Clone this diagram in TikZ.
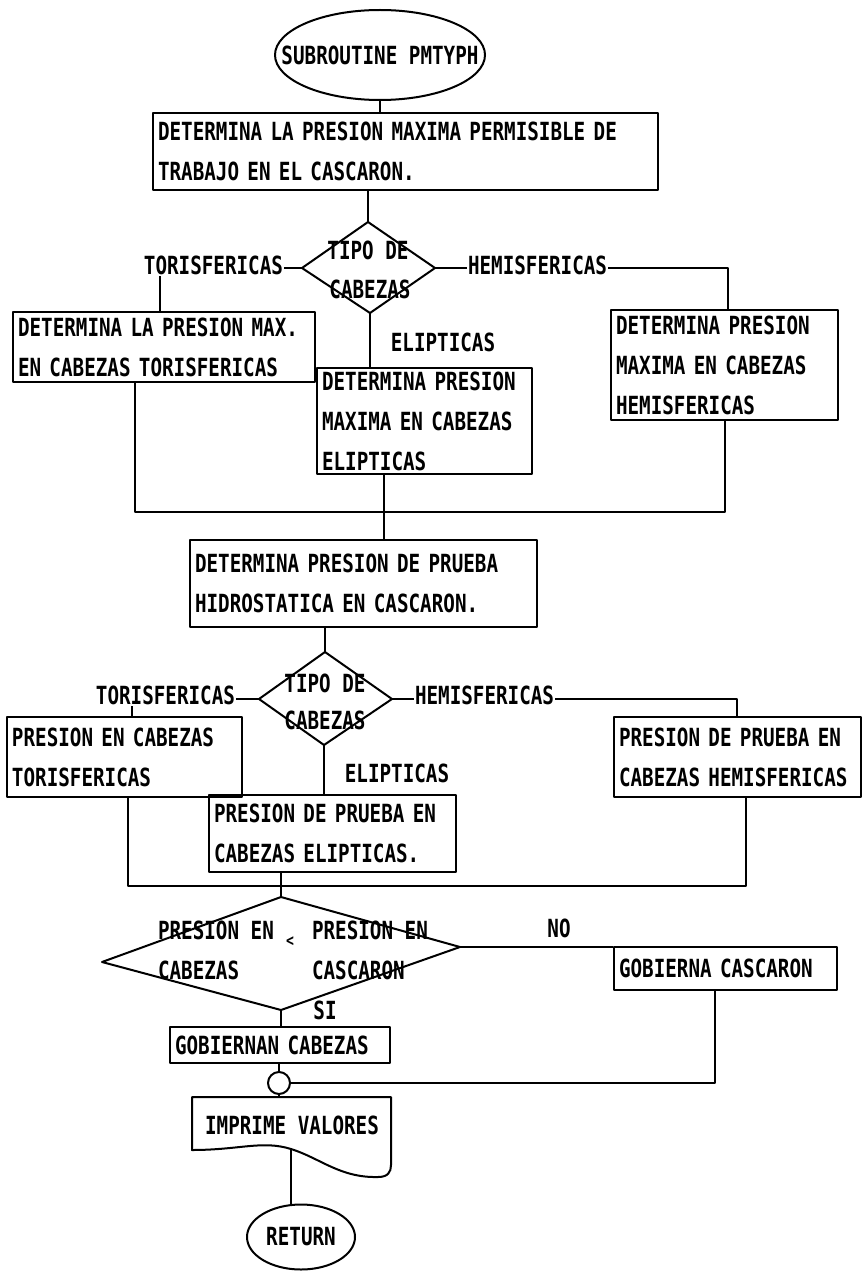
\documentclass[tikz,border=0pt]{standalone}
\usepackage{fontspec}
\setmainfont{DejaVu Sans Mono}[FakeStretch=0.77]
\usetikzlibrary{shapes.geometric}
\begin{document}
\begin{tikzpicture}[x=1pt,y=-1pt,line width=2pt,line join=round,
  every node/.style={font=\bfseries\fontsize{25pt}{40pt}\selectfont},
  box/.style={draw,rectangle,inner xsep=5pt,inner ysep=3pt,align=left},
  txt/.style={inner sep=0pt},
  oval/.style={draw,ellipse,inner sep=0pt}]
\useasboundingbox (0,0) rectangle (863,1273);

% title
\node[oval,minimum width=210pt,minimum height=90pt] (start) at (380,55) {};
\node[txt] (startt) at (start.center) {SUBROUTINE PMTYPH};
\node[box,minimum width=505pt,minimum height=77pt,text width=495pt] (b1) at (405.5,151.5) {DETERMINA LA PRESION MAXIMA PERMISIBLE DE\\TRABAJO EN EL CASCARON.};
\draw (start.south) -- (start.south |- b1.north);

% diamond 1
\coordinate (d1t) at (368,222);
\coordinate (d1l) at (302,268);
\coordinate (d1r) at (435,268);
\coordinate (d1b) at (370,313);
\draw (d1t) -- (d1r) -- (d1b) -- (d1l) -- cycle;
\node[txt] (d1a) at (368,250) {TIPO DE};
\node[txt] (d1c) at (370,289) {CABEZAS};
\draw (d1t |- b1.south) -- (d1t);

\node[box,minimum width=302pt,minimum height=70pt,text width=292pt] (bL1) at (164,347) {DETERMINA LA PRESION MAX.\\EN CABEZAS TORISFERICAS};
\node[box,minimum width=215pt,minimum height=106pt,text width=205pt] (bC1) at (424.5,421) {DETERMINA PRESION\\MAXIMA EN CABEZAS\\ELIPTICAS};
\node[box,minimum width=227pt,minimum height=110pt,text width=217pt] (bR1) at (724.5,365) {DETERMINA PRESION\\MAXIMA EN CABEZAS\\HEMISFERICAS};

\node[txt,anchor=south east] (tor1) at (284,276) {TORISFERICAS};
\draw (d1l) -- (d1l -| tor1.east);
\node[txt,anchor=south west] (hem1) at (467,276) {HEMISFERICAS};
\draw (d1r) -- (d1r -| hem1.west);
\coordinate (c1) at (728,268);
\draw (c1 -| hem1.east) -- (c1) -- (c1 |- bR1.north);
\coordinate (v1) at (160,0);
\draw (v1 |- tor1.south) -- (v1 |- bL1.north);
\draw (d1b) -- (d1b |- bC1.north);
\node[txt] (eli1) at (443,342) {ELIPTICAS};

% merge 1
\node[box,minimum width=347pt,minimum height=87pt,text width=337pt] (b3) at (363.5,583.5) {DETERMINA PRESION DE PRUEBA\\HIDROSTATICA EN CASCARON.};
\coordinate (m1L) at (135,512);
\coordinate (m1R) at (725,512);
\coordinate (m1C) at (384,512);
\draw (m1L |- bL1.south) -- (m1L) -- (m1R) -- (m1R |- bR1.south);
\draw (m1C |- bC1.south) -- (m1C) -- (m1C |- b3.north);

% diamond 2
\coordinate (d2t) at (325,652);
\coordinate (d2l) at (259,699);
\coordinate (d2r) at (392,699);
\coordinate (d2b) at (324,745);
\draw (d2t) -- (d2r) -- (d2b) -- (d2l) -- cycle;
\node[txt] (d2a) at (325,683) {TIPO DE};
\node[txt] (d2c) at (325,720) {CABEZAS};
\draw (d2t |- b3.south) -- (d2t);

\node[box,minimum width=235pt,minimum height=80pt,text width=225pt] (bL2) at (124.5,757) {PRESION EN CABEZAS\\TORISFERICAS};
\node[box,minimum width=247pt,minimum height=80pt,text width=237pt] (bR2) at (737.5,757) {PRESION DE PRUEBA EN\\CABEZAS HEMISFERICAS};
\node[box,minimum width=247pt,minimum height=77pt,text width=237pt] (bC2) at (332.5,833.5) {PRESION DE PRUEBA EN\\CABEZAS ELIPTICAS.};

\node[txt,anchor=south east] (tor2) at (236,706) {TORISFERICAS};
\draw (d2l) -- (d2l -| tor2.east);
\node[txt,anchor=south west] (hem2) at (414,706) {HEMISFERICAS};
\draw (d2r) -- (d2r -| hem2.west);
\coordinate (c2) at (737,699);
\draw (c2 -| hem2.east) -- (c2) -- (c2 |- bR2.north);
\coordinate (v2) at (132,0);
\draw (v2 |- tor2.south) -- (v2 |- bL2.north);
\draw (d2b) -- (d2b |- bC2.north);
\node[txt] (eli2) at (397,773) {ELIPTICAS};

% merge 2
\coordinate (m2L) at (128,886);
\coordinate (m2R) at (746,886);
\coordinate (m2C) at (281,886);
\draw (m2L |- bL2.south) -- (m2L) -- (m2R) -- (m2R |- bR2.south);

% diamond 3
\coordinate (d3t) at (281,897);
\coordinate (d3r) at (460,947);
\coordinate (d3b) at (281,1010);
\coordinate (d3l) at (102,962);
\draw (d3t) -- (d3r) -- (d3b) -- (d3l) -- cycle;
\draw (m2C |- bC2.south) -- (d3t);
\node[txt,anchor=west] (q1) at (157,930) {PRESION EN};
\node[txt,anchor=west] (q2) at (157,970) {CABEZAS};
\node[txt,font=\bfseries\fontsize{17pt}{20pt}\selectfont] (lt) at (290,942) {<};
\node[txt,anchor=west] (q3) at (311,930) {PRESION EN};
\node[txt,anchor=west] (q4) at (311,970) {CASCARON};
\node[txt] (no) at (559,928) {NO};
\node[txt] (si) at (325,1010) {SI};

\node[box,minimum width=223pt,minimum height=43pt,text width=213pt] (bNo) at (725.5,968.5) {GOBIERNA CASCARON};
\draw (d3r) -- (d3r -| bNo.west);
\node[box,minimum width=220pt,minimum height=36pt,text width=210pt] (bSi) at (280,1045) {GOBIERNAN CABEZAS};
\draw (d3b) -- (d3b |- bSi.north);

\node[draw,circle,minimum size=22pt,inner sep=0pt] (conn) at (279,1083) {};
\draw (conn.north |- bSi.south) -- (conn.north);
\coordinate (v3) at (715,1083);
\draw (v3 |- bNo.south) -- (v3) -- (conn.east);

% document shape
\coordinate (docTL) at (192,1097);
\coordinate (docTR) at (391,1097);
\coordinate (docb) at (291,1149);
\draw (docTL) -- (docTR) -- (391,1165) .. controls (391,1172) and (388,1177) .. (378,1177)
  .. controls (340,1178) and (320,1158) .. (docb)
  .. controls (262,1140) and (240,1150) .. (192,1150) -- cycle;
\node[txt] (doct) at (292,1125) {IMPRIME VALORES};
\draw (conn.south) -- (conn.south |- docTL);

\node[oval,minimum width=108pt,minimum height=65pt] (ret) at (301,1237) {};
\node[txt] (rett) at (ret.center) {RETURN};
\draw (docb) -- (docb |- ret.north);
\end{tikzpicture}
\end{document}
